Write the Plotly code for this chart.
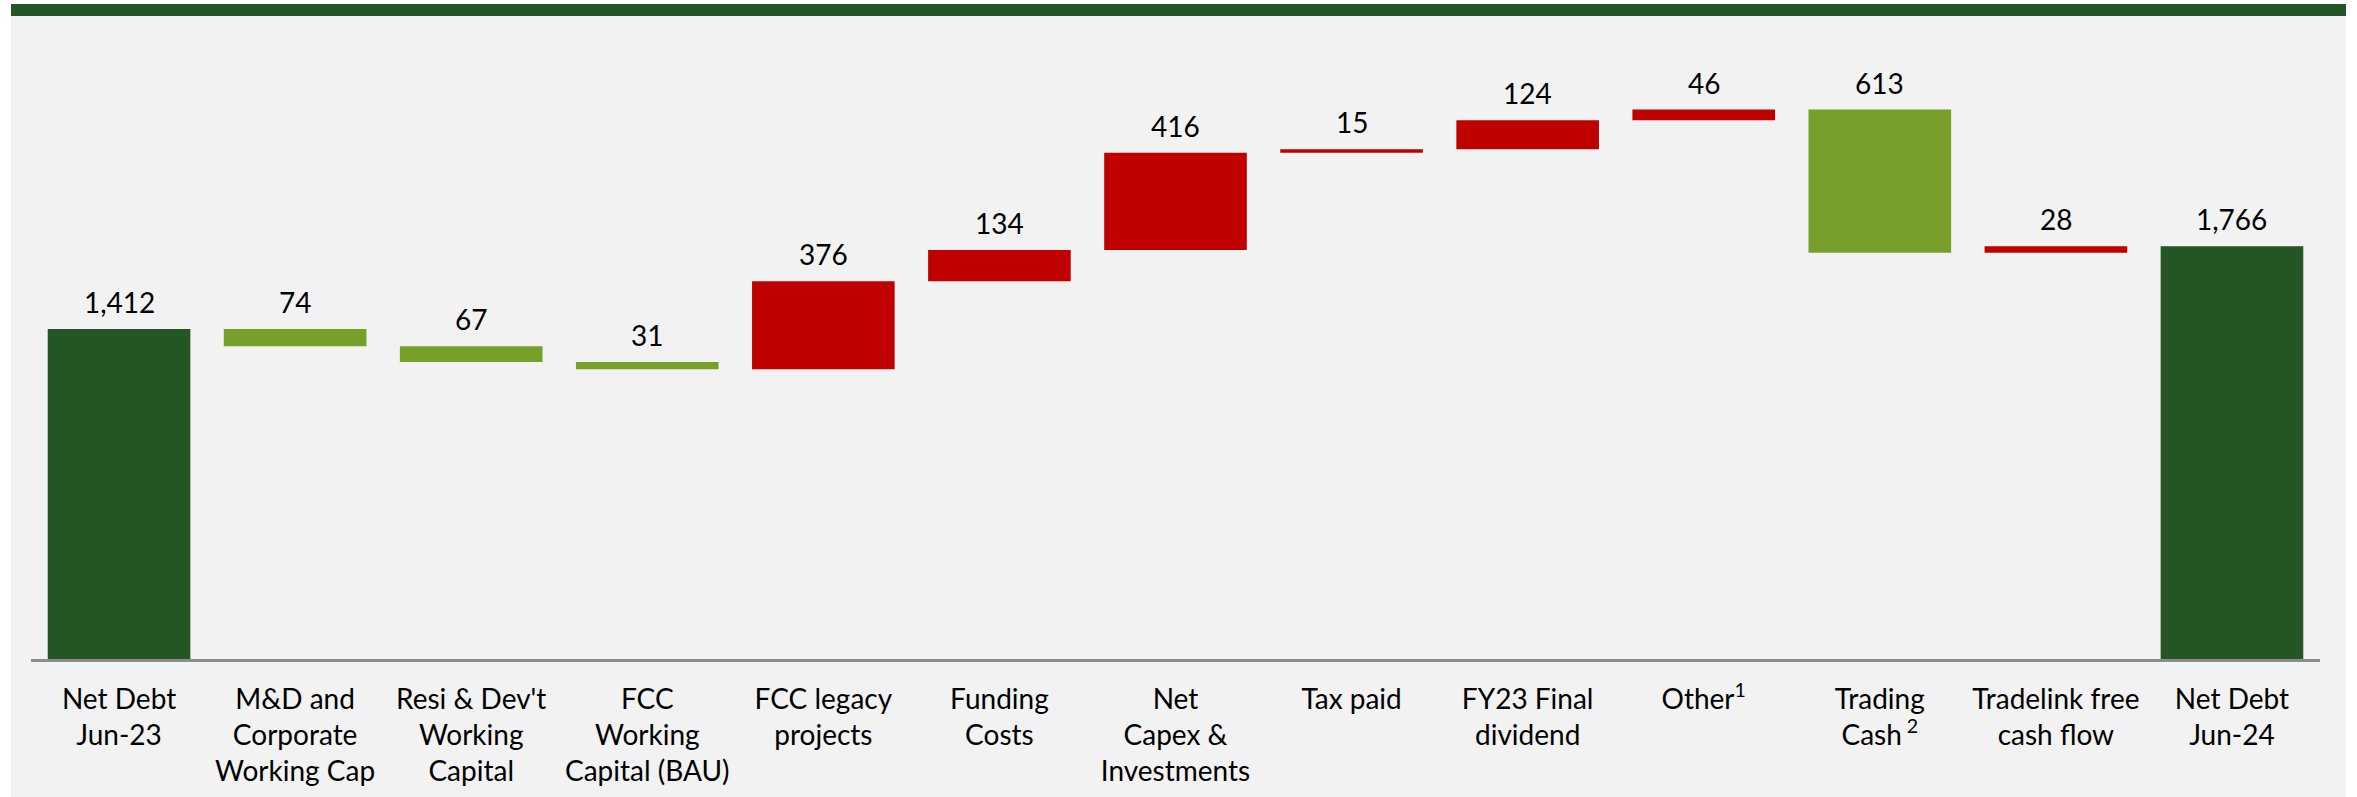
import plotly.graph_objects as go

# ---------------- DATA ----------------
categories = [
    "Net Debt<br>Jun-23",
    "M&D and<br>Corporate<br>Working Cap",
    "Resi & Dev't<br>Working<br>Capital",
    "FCC<br>Working<br>Capital (BAU)",
    "FCC legacy<br>projects",
    "Funding<br>Costs",
    "Net<br>Capex &<br>Investments",
    "Tax paid",
    "FY23 Final<br>dividend",
    "Other<sup>1</sup>",
    "Trading<br>Cash<sup> 2</sup>",
    "Tradelink free<br>cash flow",
    "Net Debt<br>Jun-24",
]
measures = ["absolute", "relative", "relative", "relative", "relative", "relative",
            "relative", "relative", "relative", "relative", "relative", "relative", "total"]
values = [1412, -74, -67, -31, 376, 134, 416, 15, 124, 46, -613, 28, 1766]
value_labels = ["1,412", "74", "67", "31", "376", "134", "416", "15", "124", "46", "613", "28", "1,766"]

# ---------------- COLOURS ----------------
DARK_GREEN = "#245524"
LIGHT_GREEN = "#789F29"
RED = "#C00000"
PANEL = "#F2F2F2"

# ---------------- GEOMETRY (pixels) ----------------
W, H = 2357, 797
L, R = 31, 2320          # plot area left / right
T, B = 60, 659           # plot area top / bottom (axis line)
y_max = 2563


def px_x(p):
    return (p - L) / (R - L)


def px_y(q):
    return (B - q) / (B - T)


fig = go.Figure(go.Waterfall(
    x=categories,
    y=values,
    measure=measures,
    increasing=dict(marker=dict(color=RED)),
    decreasing=dict(marker=dict(color=LIGHT_GREEN)),
    totals=dict(marker=dict(color=DARK_GREEN)),
    connector=dict(visible=False),
    textinfo="none",
    hoverinfo="skip",
))

# value labels on top of each bar
level = 0
for cat, m, v, lab in zip(categories, measures, values, value_labels):
    if m == "absolute":
        top = v
        level = v
    elif m == "total":
        top = level
    else:
        top = max(level, level + v)
        level += v
    fig.add_annotation(
        x=cat, y=top, text=lab, showarrow=False,
        yanchor="bottom", yshift=8,
        font=dict(family="Lato", size=28, color="black"),
    )

# grey panel and the green band at the top
fig.add_shape(type="rect", xref="paper", yref="paper", layer="below",
              x0=px_x(11), x1=px_x(2346), y0=px_y(H + 5), y1=px_y(16),
              fillcolor=PANEL, line=dict(width=0))
fig.add_shape(type="rect", xref="paper", yref="paper", layer="below",
              x0=px_x(11), x1=px_x(2346), y0=px_y(16), y1=px_y(4),
              fillcolor=DARK_GREEN, line=dict(width=0))

fig.update_layout(
    width=W, height=H,
    margin=dict(l=L, r=W - R, t=T, b=H - B, autoexpand=False),
    paper_bgcolor="white",
    plot_bgcolor="rgba(0,0,0,0)",
    waterfallgap=0.19,
    showlegend=False,
    font=dict(family="Lato", size=28, color="black"),
)
fig.update_xaxes(
    showline=True, linecolor="#8C8C8C", linewidth=3,
    showgrid=False, ticks="", ticklabelstandoff=13,
    tickfont=dict(family="Lato", size=28, color="black"),
)
fig.update_yaxes(
    range=[0, y_max], visible=False, showgrid=False, zeroline=False,
)

# page has a default 8px body margin; drop it so the figure sits at 0,0
fig.write_html(
    "out.html",
    config={"displayModeBar": False},
    post_script="document.body.style.margin='0';",
)
